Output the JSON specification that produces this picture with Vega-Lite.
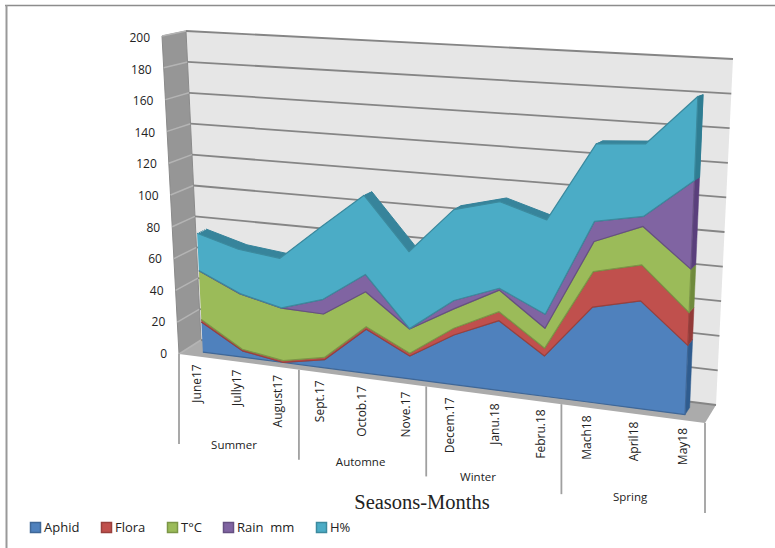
{
"$schema":"https://vega.github.io/schema/vega-lite/v6.json",
"width":775,"height":548,"padding":0,"autosize":{"type":"none"},
"background":"white",
"config":{"view":{"stroke":null},"text":{"font":"Open Sans"}},
"datasets":{
"table":[
{"idx":0,"series":"Aphid","value":19},{"idx":1,"series":"Aphid","value":4},{"idx":2,"series":"Aphid","value":0},{"idx":3,"series":"Aphid","value":5},{"idx":4,"series":"Aphid","value":26.7},{"idx":5,"series":"Aphid","value":13.8},{"idx":6,"series":"Aphid","value":29.5},{"idx":7,"series":"Aphid","value":41},{"idx":8,"series":"Aphid","value":23.5},{"idx":9,"series":"Aphid","value":54.8},{"idx":10,"series":"Aphid","value":61.3},{"idx":11,"series":"Aphid","value":39},
{"idx":0,"series":"Flora","value":1.6},{"idx":1,"series":"Flora","value":1},{"idx":2,"series":"Flora","value":1.1},{"idx":3,"series":"Flora","value":1.4},{"idx":4,"series":"Flora","value":1.6},{"idx":5,"series":"Flora","value":1.6},{"idx":6,"series":"Flora","value":4},{"idx":7,"series":"Flora","value":5.3},{"idx":8,"series":"Flora","value":4.5},{"idx":9,"series":"Flora","value":20.5},{"idx":10,"series":"Flora","value":20.5},{"idx":11,"series":"Flora","value":18.5},
{"idx":0,"series":"T°C","value":30.7},{"idx":1,"series":"T°C","value":34.6},{"idx":2,"series":"T°C","value":32.5},{"idx":3,"series":"T°C","value":26.6},{"idx":4,"series":"T°C","value":21.2},{"idx":5,"series":"T°C","value":14.6},{"idx":6,"series":"T°C","value":11.5},{"idx":7,"series":"T°C","value":12.7},{"idx":8,"series":"T°C","value":11.6},{"idx":9,"series":"T°C","value":17.3},{"idx":10,"series":"T°C","value":21.9},{"idx":11,"series":"T°C","value":24.5},
{"idx":0,"series":"Rain\u00a0\u00a0mm","value":0.2},{"idx":1,"series":"Rain\u00a0\u00a0mm","value":0.2},{"idx":2,"series":"Rain\u00a0\u00a0mm","value":0.2},{"idx":3,"series":"Rain\u00a0\u00a0mm","value":9},{"idx":4,"series":"Rain\u00a0\u00a0mm","value":10.5},{"idx":5,"series":"Rain\u00a0\u00a0mm","value":0.2},{"idx":6,"series":"Rain\u00a0\u00a0mm","value":5},{"idx":7,"series":"Rain\u00a0\u00a0mm","value":1.1},{"idx":8,"series":"Rain\u00a0\u00a0mm","value":8.2},{"idx":9,"series":"Rain\u00a0\u00a0mm","value":11.6},{"idx":10,"series":"Rain\u00a0\u00a0mm","value":5.7},{"idx":11,"series":"Rain\u00a0\u00a0mm","value":50},
{"idx":0,"series":"H%","value":23.5},{"idx":1,"series":"H%","value":27.7},{"idx":2,"series":"H%","value":30.7},{"idx":3,"series":"H%","value":44.5},{"idx":4,"series":"H%","value":48},{"idx":5,"series":"H%","value":46.2},{"idx":6,"series":"H%","value":54},{"idx":7,"series":"H%","value":50.9},{"idx":8,"series":"H%","value":54.9},{"idx":9,"series":"H%","value":44.8},{"idx":10,"series":"H%","value":41.4},{"idx":11,"series":"H%","value":47.4}
],
"months":[{"idx":0,"month":"June17"},{"idx":1,"month":"Jully17"},{"idx":2,"month":"August17"},{"idx":3,"month":"Sept.17"},{"idx":4,"month":"Octob.17"},{"idx":5,"month":"Nove.17"},{"idx":6,"month":"Decem.17"},{"idx":7,"month":"Janu.18"},{"idx":8,"month":"Febru.18"},{"idx":9,"month":"Mach18"},{"idx":10,"month":"April18"},{"idx":11,"month":"May18"}],
"seasons":[{"season":"Summer","pos":0.94},{"season":"Automne","pos":3.98},{"season":"Winter","pos":6.65},{"season":"Spring","pos":9.93}],
"separators":[{"edge":0},{"edge":0.228},{"edge":0.47},{"edge":0.727},{"edge":1}],
"grid":[{"v":0},{"v":20},{"v":40},{"v":60},{"v":80},{"v":100},{"v":120},{"v":140},{"v":160},{"v":180},{"v":200}],
"walls":[
{"wall":"back","ord":0,"u":0,"d":1,"v":0},{"wall":"back","ord":1,"u":0,"d":1,"v":200},{"wall":"back","ord":2,"u":1,"d":1,"v":200},{"wall":"back","ord":3,"u":1,"d":1,"v":0},
{"wall":"left","ord":0,"u":0,"d":0,"v":0},{"wall":"left","ord":1,"u":0,"d":0,"v":200},{"wall":"left","ord":2,"u":0,"d":1,"v":200},{"wall":"left","ord":3,"u":0,"d":1,"v":0},
{"wall":"floor","ord":0,"u":0,"d":0,"v":0},{"wall":"floor","ord":1,"u":0,"d":1,"v":0},{"wall":"floor","ord":2,"u":1,"d":1,"v":0},{"wall":"floor","ord":3,"u":1,"d":0,"v":0}
]
},
"layer":[
{"data":{"name":"walls"},"transform":[{"filter":"datum.wall=='back'"},
{"calculate":"(1-datum.u)*((1-datum.d)*(179-17*datum.v/200)+datum.d*(201-15*datum.v/200))+datum.u*((1-datum.d)*(705+15*datum.v/200)+datum.d*(716+17*datum.v/200))","as":"px"},
{"calculate":"(1-datum.u)*((1-datum.d)*(354-318*datum.v/200)+datum.d*(340-309*datum.v/200))+datum.u*((1-datum.d)*(423-361*datum.v/200)+datum.d*(405-346*datum.v/200))","as":"py"}],
"mark":{"type":"line","fill":"#e6e6e6","filled":true,"strokeWidth":0},
"encoding":{"x":{"field":"px","type":"quantitative","scale":{"domain":[0,775],"nice":false,"zero":false},"axis":null},"y":{"field":"py","type":"quantitative","scale":{"domain":[0,548],"reverse":true,"nice":false,"zero":false},"axis":null},"order":{"field":"ord","type":"quantitative"}}},
{"data":{"name":"walls"},"transform":[{"filter":"datum.wall=='left'"},
{"calculate":"(1-datum.u)*((1-datum.d)*(179-17*datum.v/200)+datum.d*(201-15*datum.v/200))+datum.u*((1-datum.d)*(705+15*datum.v/200)+datum.d*(716+17*datum.v/200))","as":"px"},
{"calculate":"(1-datum.u)*((1-datum.d)*(354-318*datum.v/200)+datum.d*(340-309*datum.v/200))+datum.u*((1-datum.d)*(423-361*datum.v/200)+datum.d*(405-346*datum.v/200))","as":"py"}],
"mark":{"type":"line","fill":"#969696","filled":true,"stroke":"#8a8a8a","strokeWidth":1},
"encoding":{"x":{"field":"px","type":"quantitative","axis":null},"y":{"field":"py","type":"quantitative","axis":null},"order":{"field":"ord","type":"quantitative"}}},
{"data":{"name":"walls"},"transform":[{"filter":"datum.wall=='floor'"},
{"calculate":"(1-datum.u)*((1-datum.d)*(179-17*datum.v/200)+datum.d*(201-15*datum.v/200))+datum.u*((1-datum.d)*(705+15*datum.v/200)+datum.d*(716+17*datum.v/200))","as":"px"},
{"calculate":"(1-datum.u)*((1-datum.d)*(354-318*datum.v/200)+datum.d*(340-309*datum.v/200))+datum.u*((1-datum.d)*(423-361*datum.v/200)+datum.d*(405-346*datum.v/200))","as":"py"}],
"mark":{"type":"line","fill":"#ababab","filled":true,"strokeWidth":0},
"encoding":{"x":{"field":"px","type":"quantitative","axis":null},"y":{"field":"py","type":"quantitative","axis":null},"order":{"field":"ord","type":"quantitative"}}},
{"data":{"name":"grid"},"transform":[{"calculate":"179-17*datum.v/200","as":"x1"},{"calculate":"354-318*datum.v/200","as":"y1"},{"calculate":"201-15*datum.v/200","as":"x2"},{"calculate":"340-309*datum.v/200","as":"y2"}],
"mark":{"type":"rule","stroke":"#b4b4b4","strokeWidth":1.5},
"encoding":{"x":{"field":"x1","type":"quantitative","axis":null},"y":{"field":"y1","type":"quantitative","axis":null},"x2":{"field":"x2"},"y2":{"field":"y2"}}},
{"data":{"name":"grid"},"transform":[{"calculate":"201-15*datum.v/200","as":"x1"},{"calculate":"340-309*datum.v/200","as":"y1"},{"calculate":"716+17*datum.v/200","as":"x2"},{"calculate":"405-346*datum.v/200","as":"y2"}],
"mark":{"type":"rule","stroke":"#858585","strokeWidth":1.8},
"encoding":{"x":{"field":"x1","type":"quantitative","axis":null},"y":{"field":"y1","type":"quantitative","axis":null},"x2":{"field":"x2"},"y2":{"field":"y2"}}},
{"data":{"name":"table"},"transform":[
{"calculate":"indexof(['Aphid','Flora','T°C','Rain\u00a0\u00a0mm','H%'],datum.series)","as":"s"},
{"stack":"value","groupby":["idx"],"sort":[{"field":"s","order":"ascending"}],"as":["v0","v1"]},
{"filter":"datum.series=='H%'"},
{"fold":["v0","v1"],"as":["edge","v"]},
{"calculate":"[0.38,0.46,0.54,0.62,0.7]","as":"dl"},{"flatten":["dl"]},
{"calculate":"datum.dl","as":"d"},
{"calculate":"0.033+0.0754*datum.idx+0.00077*datum.idx*datum.idx","as":"u"},
{"calculate":"datum.edge=='v1'?datum.idx:100-datum.idx","as":"ord"},
{"calculate":"(1-datum.u)*((1-datum.d)*(179-17*datum.v/200)+datum.d*(201-15*datum.v/200))+datum.u*((1-datum.d)*(705+15*datum.v/200)+datum.d*(716+17*datum.v/200))","as":"px"},
{"calculate":"(1-datum.u)*((1-datum.d)*(354-318*datum.v/200)+datum.d*(340-309*datum.v/200))+datum.u*((1-datum.d)*(423-361*datum.v/200)+datum.d*(405-346*datum.v/200))","as":"py"}],
"mark":{"type":"line","fill":"#37849b","filled":true,"stroke":"#37849b","strokeWidth":1},
"encoding":{"x":{"field":"px","type":"quantitative","axis":null},"y":{"field":"py","type":"quantitative","axis":null},"detail":{"field":"dl"},"order":{"field":"ord","type":"quantitative"}}},
{"data":{"name":"table"},"transform":[
{"calculate":"indexof(['Aphid','Flora','T°C','Rain\u00a0\u00a0mm','H%'],datum.series)","as":"s"},
{"stack":"value","groupby":["idx"],"sort":[{"field":"s","order":"ascending"}],"as":["v0","v1"]},
{"filter":"datum.idx==11"},
{"fold":["v0","v1"],"as":["edge","v"]},
{"calculate":"[0.3,0.7]","as":"d"},{"flatten":["d"]},
{"calculate":"0.033+0.0754*datum.idx+0.00077*datum.idx*datum.idx","as":"u"},
{"calculate":"datum.edge=='v1'?(datum.d<0.5?0:1):(datum.d>0.5?2:3)","as":"ord"},
{"calculate":"(1-datum.u)*((1-datum.d)*(179-17*datum.v/200)+datum.d*(201-15*datum.v/200))+datum.u*((1-datum.d)*(705+15*datum.v/200)+datum.d*(716+17*datum.v/200))","as":"px"},
{"calculate":"(1-datum.u)*((1-datum.d)*(354-318*datum.v/200)+datum.d*(340-309*datum.v/200))+datum.u*((1-datum.d)*(423-361*datum.v/200)+datum.d*(405-346*datum.v/200))","as":"py"}],
"mark":{"type":"line","filled":true,"strokeWidth":0.5},
"encoding":{"x":{"field":"px","type":"quantitative","axis":null},"y":{"field":"py","type":"quantitative","axis":null},"order":{"field":"ord","type":"quantitative"},
"fill":{"field":"series","type":"nominal","scale":{"domain":["Aphid","Flora","T°C","Rain\u00a0\u00a0mm","H%"],"range":["#2f5c8f","#933a38","#6f8a3c","#5a3f7c","#2f7d92"]},"legend":null},
"stroke":{"field":"series","type":"nominal","scale":{"domain":["Aphid","Flora","T°C","Rain\u00a0\u00a0mm","H%"],"range":["#2f5c8f","#933a38","#6f8a3c","#5a3f7c","#2f7d92"]},"legend":null}}},
{"data":{"name":"table"},"transform":[
{"calculate":"indexof(['Aphid','Flora','T°C','Rain\u00a0\u00a0mm','H%'],datum.series)","as":"s"},
{"stack":"value","groupby":["idx"],"sort":[{"field":"s","order":"ascending"}],"as":["v0","v1"]},
{"fold":["v0","v1"],"as":["edge","v"]},
{"calculate":"0.3","as":"d"},
{"calculate":"0.033+0.0754*datum.idx+0.00077*datum.idx*datum.idx","as":"u"},
{"calculate":"datum.edge=='v1'?datum.idx:100-datum.idx","as":"ord"},
{"calculate":"(1-datum.u)*((1-datum.d)*(179-17*datum.v/200)+datum.d*(201-15*datum.v/200))+datum.u*((1-datum.d)*(705+15*datum.v/200)+datum.d*(716+17*datum.v/200))","as":"px"},
{"calculate":"(1-datum.u)*((1-datum.d)*(354-318*datum.v/200)+datum.d*(340-309*datum.v/200))+datum.u*((1-datum.d)*(423-361*datum.v/200)+datum.d*(405-346*datum.v/200))","as":"py"}],
"mark":{"type":"line","filled":true,"strokeWidth":1.2,"strokeJoin":"round"},
"encoding":{"x":{"field":"px","type":"quantitative","axis":null},"y":{"field":"py","type":"quantitative","axis":null},"order":{"field":"ord","type":"quantitative"},
"fill":{"field":"series","type":"nominal","scale":{"domain":["Aphid","Flora","T°C","Rain\u00a0\u00a0mm","H%"],"range":["#4f81bd","#c0504d","#9bbb59","#8064a2","#4bacc6"]},"legend":{"title":null,"orient":"none","legendX":29,"legendY":521,"direction":"horizontal","columns":5,"gridAlign":"none","columnPadding":18,"symbolType":"square","symbolSize":100,"symbolStrokeWidth":1.5,"labelFont":"Open Sans","labelFontSize":13,"labelColor":"#222222","labelOffset":2}},
"stroke":{"field":"series","type":"nominal","scale":{"domain":["Aphid","Flora","T°C","Rain\u00a0\u00a0mm","H%"],"range":["#3f6797","#99403d","#7c9647","#665082","#3c8a9e"]},"legend":{"title":null,"orient":"none","legendX":29,"legendY":521,"direction":"horizontal","columns":5,"gridAlign":"none","columnPadding":18,"symbolType":"square","symbolSize":100,"symbolStrokeWidth":1.5,"labelFont":"Open Sans","labelFontSize":13,"labelColor":"#222222","labelOffset":2}}}},
{"data":{"name":"grid"},"transform":[{"calculate":"167-17*datum.v/200","as":"x1"},{"calculate":"354-316*datum.v/200","as":"y1"}],
"mark":{"type":"text","align":"right","baseline":"middle","fontSize":12,"font":"Open Sans","color":"#222222"},
"encoding":{"x":{"field":"x1","type":"quantitative","axis":null},"y":{"field":"y1","type":"quantitative","axis":null},"text":{"field":"v","type":"quantitative"}}},
{"data":{"name":"months"},"transform":[{"calculate":"0.033+0.0754*datum.idx+0.00077*datum.idx*datum.idx","as":"u"},{"calculate":"179+526*datum.u+1","as":"x1"},{"calculate":"354+69*datum.u+8","as":"y1"}],
"mark":{"type":"text","angle":270,"align":"right","baseline":"middle","fontSize":12,"font":"Open Sans","color":"#222222"},
"encoding":{"x":{"field":"x1","type":"quantitative","axis":null},"y":{"field":"y1","type":"quantitative","axis":null},"text":{"field":"month"}}},
{"data":{"name":"seasons"},"transform":[{"calculate":"0.033+0.0754*datum.pos+0.00077*datum.pos*datum.pos","as":"u"},{"calculate":"179+526*datum.u","as":"x1"},{"calculate":"354+69*datum.u+85","as":"y1"}],
"mark":{"type":"text","align":"center","baseline":"middle","fontSize":11.5,"font":"Open Sans","color":"#222222"},
"encoding":{"x":{"field":"x1","type":"quantitative","axis":null},"y":{"field":"y1","type":"quantitative","axis":null},"text":{"field":"season"}}},
{"data":{"name":"separators"},"transform":[{"calculate":"179+526*datum.edge","as":"x1"},{"calculate":"354+69*datum.edge","as":"y1"},{"calculate":"datum.y1+90","as":"y2"}],
"mark":{"type":"rule","stroke":"#a0a0a0","strokeWidth":1.8},
"encoding":{"x":{"field":"x1","type":"quantitative","axis":null},"y":{"field":"y1","type":"quantitative","axis":null},"y2":{"field":"y2"}}},
{"data":{"values":[{"label":"Seasons-Months"}]},"mark":{"type":"text","align":"center","baseline":"middle","font":"Liberation Serif","fontSize":20.5,"color":"#222222"},"encoding":{"x":{"datum":422,"type":"quantitative","axis":null},"y":{"datum":503,"type":"quantitative","axis":null},"text":{"field":"label"}}},
{"data":{"values":[{"frame":"top"}]},"mark":{"type":"rule","stroke":"#8c8c8c","strokeWidth":1.5},"encoding":{"x":{"datum":5,"type":"quantitative","axis":null},"x2":{"datum":775},"y":{"datum":5.5,"type":"quantitative","axis":null}}},
{"data":{"values":[{"frame":"left"}]},"mark":{"type":"rule","stroke":"#999999","strokeWidth":2},"encoding":{"x":{"datum":6.5,"type":"quantitative","axis":null},"y":{"datum":5,"type":"quantitative","axis":null},"y2":{"datum":548}}}
],
"resolve":{"scale":{"fill":"independent","stroke":"independent"}}
}
